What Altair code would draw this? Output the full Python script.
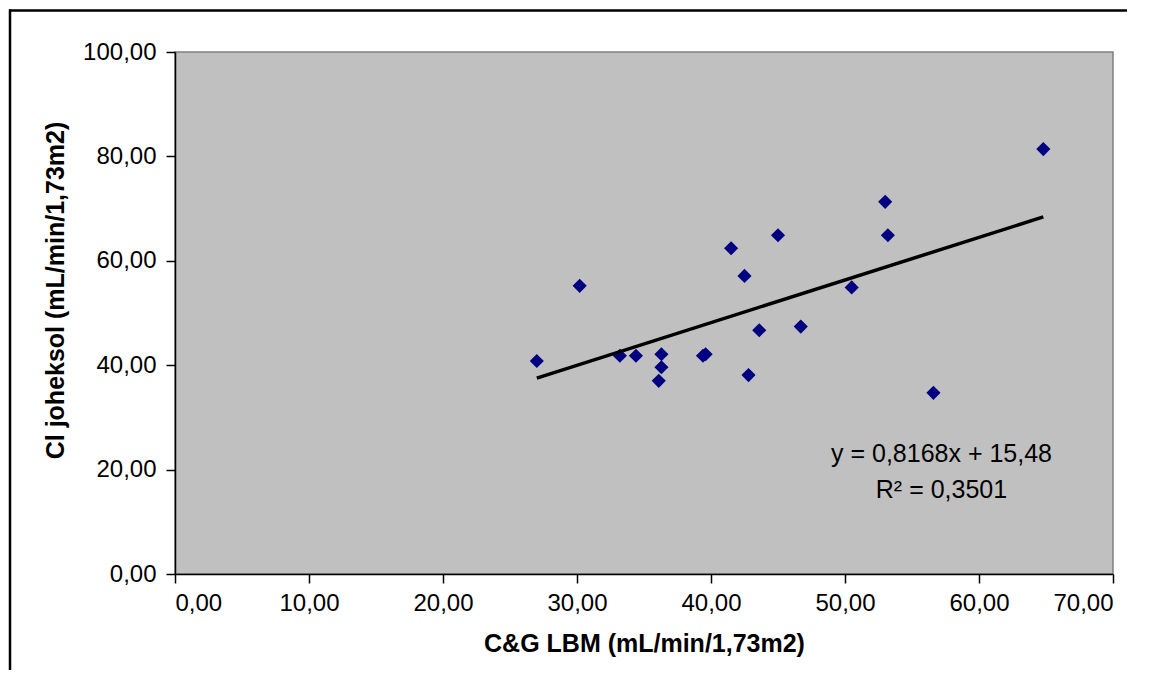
import altair as alt
import pandas as pd

# Data
cg_lbm = [27.0, 30.2, 33.2, 34.4, 36.3, 36.3, 36.1, 39.4, 39.6, 41.5,
          42.5, 43.6, 42.8, 45.0, 46.7, 50.5, 53.0, 53.2, 56.6, 64.8]
cl_joheksol = [40.8, 55.2, 41.8, 41.8, 42.1, 39.6, 37.0, 41.8, 42.1, 62.4,
               57.1, 46.7, 38.1, 64.9, 47.4, 54.9, 71.3, 64.9, 34.7, 81.4]

slope = 0.8168
intercept = 15.48
eq_lines = ["y = 0,8168x + 15,48", "R² = 0,3501"]
x_ticks = [0, 10, 20, 30, 40, 50, 60, 70]
y_ticks = [0, 20, 40, 60, 80, 100]

FONT = "Liberation Sans"
W, H = 938, 522
PAD = {"left": 167, "top": 44, "right": 28, "bottom": 96}

df = pd.DataFrame({"x": cg_lbm, "y": cl_joheksol})
xmin, xmax = min(cg_lbm), max(cg_lbm)
trend = pd.DataFrame({"x": [xmin, xmax],
                      "y": [slope * xmin + intercept, slope * xmax + intercept]})
ann = pd.DataFrame({"x": [57.2], "y": [21.5], "t": [eq_lines]})

fmt = "replace(format(datum.value, '.2f'), '.', ',')"

xscale = alt.Scale(domain=[0, 70], nice=False, zero=True)
yscale = alt.Scale(domain=[0, 100], nice=False, zero=True)

xaxis = alt.Axis(values=x_ticks, labelExpr=fmt, grid=False, domainColor="black",
                 domainWidth=1.5, tickColor="black", tickSize=9, tickWidth=1.5,
                 labelFont=FONT, labelFontSize=24, labelColor="black",
                 labelPadding=8, title="C&G LBM (mL/min/1,73m2)",
                 titleFont=FONT, titleFontSize=25, titleFontWeight="bold",
                 titleColor="black", titlePadding=16)
yaxis = alt.Axis(values=y_ticks, labelExpr=fmt, grid=False, domainColor="black",
                 domainWidth=1.5, tickColor="black", tickSize=9, tickWidth=1.5,
                 labelFont=FONT, labelFontSize=24, labelColor="black",
                 labelPadding=10, title="Cl joheksol (mL/min/1,73m2)",
                 titleFont=FONT, titleFontSize=25, titleFontWeight="bold",
                 titleColor="black", titlePadding=14, titleY=238)

points = alt.Chart(df).mark_point(shape="diamond", filled=True, size=200,
                                  color="#000080", opacity=1).encode(
    x=alt.X("x:Q", scale=xscale, axis=xaxis),
    y=alt.Y("y:Q", scale=yscale, axis=yaxis),
)

line = alt.Chart(trend).mark_line(color="black", strokeWidth=3.5).encode(
    x=alt.X("x:Q", scale=xscale),
    y=alt.Y("y:Q", scale=yscale),
)

text = alt.Chart(ann).mark_text(font=FONT, fontSize=25, color="black",
                                align="center", baseline="alphabetic",
                                lineHeight=36).encode(
    x=alt.X("x:Q", scale=xscale),
    y=alt.Y("y:Q", scale=yscale),
    text="t",
)

one = pd.DataFrame({"a": [0]})
frame_top = alt.Chart(one).mark_rule(color="black", strokeWidth=2.5, clip=False).encode(
    x=alt.value(-166), x2=alt.value(952), y=alt.value(-41.5),
)
frame_left = alt.Chart(one).mark_rule(color="black", strokeWidth=2.5, clip=False).encode(
    x=alt.value(-165), y=alt.value(-42.5), y2=alt.value(720),
)

chart = alt.layer(frame_top, frame_left, points, line, text).properties(
    width=W, height=H,
    autosize=alt.AutoSizeParams(type="none"),
    padding=PAD,
    background="white",
).configure_view(
    fill="#C0C0C0", stroke="#808080", strokeWidth=1.5,
)

chart.save("out.html", embed_options={"renderer": "svg", "actions": False})
